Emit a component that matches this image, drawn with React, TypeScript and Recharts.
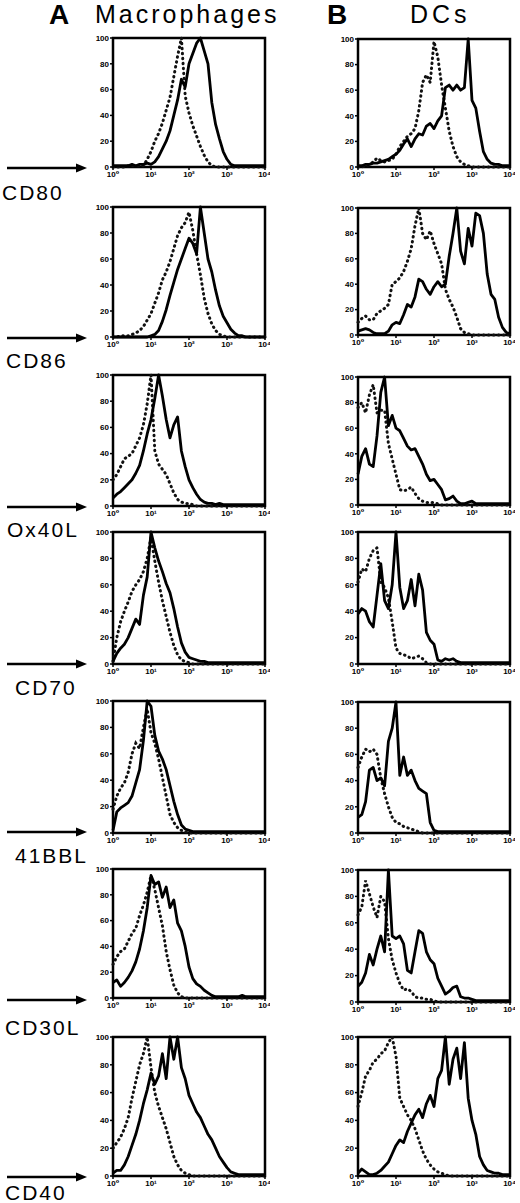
import { LineChart, Line, XAxis, YAxis, ReferenceArea } from "recharts";

// log10 fluorescence position, in decades (10^0 .. 10^4)
const decades = [
  0, 0.1, 0.2, 0.3, 0.4, 0.5, 0.6, 0.7, 0.8, 0.9,
  1, 1.1, 1.2, 1.3, 1.4, 1.5, 1.6, 1.7, 1.8, 1.9,
  2, 2.1, 2.2, 2.3, 2.4, 2.5, 2.6, 2.7, 2.8, 2.9,
  3, 3.1, 3.2, 3.3, 3.4, 3.5, 3.6, 3.7, 3.8, 3.9,
  4,
];
const xTicks = [0, 1, 2, 3, 4];
const xTickLabels = ["10⁰", "10¹", "10²", "10³", "10⁴"];
const yTicks = [0, 20, 40, 60, 80, 100];

const markers = ["CD80", "CD86", "Ox40L", "CD70", "41BBL", "CD30L", "CD40"];

// Macrophages (column A): solid = marker, dotted = isotype
const macCD80 = [1,1,1,1,1,2,1,2,2,3, 2,4,8,14,20,28,40,52,68,62, 80,88,96,100,90,80,50,33,22,12, 6,2,1,1,1,1,1,1,1,1, 1];
const macCD80Iso = [0,0,0,0,1,1,1,1,1,6, 12,20,26,34,44,54,70,86,100,55, 42,32,24,16,9,4,1,0,0,0, 0,0,0,0,0,0,0,0,0,0, 0];
const macCD86 = [0,0,0,0,0,0,0,0,0,0, 1,2,5,12,21,32,42,52,60,68, 76,72,64,100,80,60,50,36,24,16, 11,6,3,1,1,0,0,0,0,0, 0];
const macCD86Iso = [0,0,1,1,1,2,3,5,8,13, 18,26,34,44,50,58,68,78,84,88, 96,82,64,48,30,18,10,5,2,1, 0,0,0,0,0,0,0,0,0,0, 0];
const macOx40L = [6,9,11,14,17,20,25,31,42,55, 66,82,100,84,66,52,62,68,42,30, 20,14,9,5,3,2,2,1,2,1, 1,1,1,1,1,1,1,1,1,1, 1];
const macOx40LIso = [20,24,30,36,38,40,46,52,62,78, 100,42,32,28,24,17,10,5,3,2, 2,1,0,0,0,0,0,0,0,0, 0,0,0,0,0,0,0,0,0,0, 0];
const macCD70 = [2,8,12,15,20,27,34,30,52,66, 100,88,78,70,61,54,42,28,16,9, 5,4,3,2,2,1,1,1,1,1, 1,1,1,1,1,1,1,1,1,1, 1];
const macCD70Iso = [2,20,32,40,47,55,60,64,70,80, 96,78,62,48,36,24,14,7,3,2, 1,0,0,0,0,0,0,0,0,0, 0,0,0,0,0,0,0,0,0,0, 0];
const mac41BBL = [2,16,19,21,23,28,38,48,70,100, 96,74,62,56,48,36,24,14,6,3, 2,1,1,1,1,1,1,1,1,1, 1,1,1,1,1,1,1,1,1,1, 1];
const mac41BBLIso = [18,28,34,38,46,60,68,64,80,94, 76,68,56,42,28,14,8,4,2,1, 0,0,0,0,0,0,0,0,0,0, 0,0,0,0,0,0,0,0,0,0, 0];
const macCD30L = [12,14,9,12,16,21,28,38,52,70, 95,88,90,78,86,70,76,58,52,40, 24,15,11,9,6,4,2,1,1,1, 1,1,1,1,2,1,1,1,1,1, 1];
const macCD30LIso = [26,32,36,38,44,50,54,64,72,82, 95,84,70,56,36,22,10,4,1,0, 0,0,0,0,0,0,0,0,0,0, 0,0,0,0,0,0,0,0,0,0, 0];
const macCD40 = [2,4,4,8,14,22,30,40,52,62, 74,66,72,88,70,100,84,100,78,70, 58,52,46,42,36,30,26,20,14,10, 6,3,2,1,1,1,1,1,1,1, 1];
const macCD40Iso = [20,24,28,34,42,56,68,80,88,100, 78,60,50,42,34,24,14,8,4,2, 1,0,0,0,0,0,0,0,0,0, 0,0,0,0,0,0,0,0,0,0, 0];

// DCs (column B)
const dcCD80 = [1,1,2,2,3,3,4,5,6,8, 10,13,18,22,16,22,26,25,32,34, 30,36,40,62,64,60,64,60,62,100, 52,46,28,12,6,3,2,2,1,1, 1];
const dcCD80Iso = [0,0,1,2,4,7,5,4,5,6, 10,16,20,24,26,30,44,66,72,66, 98,86,64,46,28,16,8,4,2,1, 0,0,0,0,0,0,0,0,0,0, 0];
const dcCD86 = [3,4,5,4,2,1,1,1,3,8, 10,9,16,24,22,30,44,42,36,32, 38,42,38,40,62,80,100,66,56,84, 70,96,94,80,48,32,28,14,6,2, 1];
const dcCD86Iso = [10,13,15,12,12,17,19,21,24,40, 42,45,50,58,68,86,100,80,75,82, 72,64,56,36,28,22,14,5,2,1, 0,0,0,0,0,0,0,0,0,0, 0];
const dcOx40L = [24,38,44,32,30,54,88,100,62,70, 60,58,52,46,43,44,38,32,24,19, 20,16,12,4,5,7,3,1,1,2, 3,1,1,1,1,1,1,1,1,1, 1];
const dcOx40LIso = [76,80,72,86,94,72,74,74,48,36, 24,12,11,12,14,9,5,3,2,2, 2,1,0,0,0,0,0,0,0,0, 0,0,0,0,0,0,0,0,0,0, 0];
const dcCD70 = [38,42,40,32,28,52,76,48,42,60, 100,58,42,48,64,44,68,56,24,18, 15,3,2,4,3,4,2,1,1,1, 1,1,1,1,1,1,1,1,1,1, 1];
const dcCD70Iso = [62,72,70,80,86,88,62,58,50,32, 12,8,7,6,4,5,6,4,1,0, 0,0,0,0,0,0,0,0,0,0, 0,0,0,0,0,0,0,0,0,0, 0];
const dc41BBL = [12,14,24,48,50,40,42,36,70,80, 100,44,58,44,48,40,34,32,30,8, 2,1,1,1,1,1,1,1,1,1, 1,1,1,1,1,1,1,1,1,1, 1];
const dc41BBLIso = [50,58,64,62,64,60,42,30,20,12, 8,7,5,4,3,2,1,0,0,0, 0,0,0,0,0,0,0,0,0,0, 0,0,0,0,0,0,0,0,0,0, 0];
const dcCD30L = [12,15,22,36,28,40,50,38,100,50, 48,50,44,24,22,38,54,52,38,32, 29,18,12,6,8,11,12,4,3,3, 2,1,1,1,1,1,1,1,1,1, 1];
const dcCD30LIso = [66,72,92,82,72,64,80,76,48,32, 22,14,9,10,8,4,3,3,2,2, 1,0,0,0,0,0,0,0,0,0, 0,0,0,0,0,0,0,0,0,0, 0];
const dcCD40 = [2,5,3,1,1,2,4,7,10,16, 22,26,24,32,38,44,48,42,52,58, 50,70,76,100,66,84,92,70,96,56, 40,30,14,8,4,3,2,2,1,1, 1];
const dcCD40Iso = [50,60,72,76,82,84,88,90,96,100, 86,56,50,44,40,34,26,18,12,8, 5,3,2,1,0,0,0,0,0,0, 0,0,0,0,0,0,0,0,0,0, 0];

const macSolid = [macCD80, macCD86, macOx40L, macCD70, mac41BBL, macCD30L, macCD40];
const macDotted = [macCD80Iso, macCD86Iso, macOx40LIso, macCD70Iso, mac41BBLIso, macCD30LIso, macCD40Iso];
const dcSolid = [dcCD80, dcCD86, dcOx40L, dcCD70, dc41BBL, dcCD30L, dcCD40];
const dcDotted = [dcCD80Iso, dcCD86Iso, dcOx40LIso, dcCD70Iso, dc41BBLIso, dcCD30LIso, dcCD40Iso];

// page layout (plot-area edges in px)
const COL_A = { left: 113, right: 265 };
const COL_B = { left: 358, right: 510 };
const rowsA = [[38, 167], [207, 337], [375, 506], [532, 664], [701, 833], [869, 998], [1037, 1176]];
const rowsB = [[39, 167], [208, 335], [377, 505], [532, 664], [702, 833], [870, 1002], [1037, 1176]];
const arrowYs = [168, 338, 507, 664, 832, 1000, 1177];
const labelTops = [182, 350, 519, 677, 845, 1017, 1182];
const labelLefts = [2, 6, 7, 15, 15, 5, 5];

const FONT = "'Liberation Sans', Arial, 'DejaVu Sans', sans-serif";
const Y_AXIS_W = 24;
const X_AXIS_H = 14;
const TOP_PAD = 4;
const RIGHT_PAD = 5;
const tickStyle = { fill: "#000", fontSize: 8, fontWeight: 700, fontFamily: FONT };

const Panel = ({ col, row, solid, dotted }: any) => {
  const data = decades.map((d, i) => ({ d, solid: solid[i], dotted: dotted[i] }));
  const w = col.right - col.left + Y_AXIS_W + RIGHT_PAD;
  const h = row[1] - row[0] + TOP_PAD + X_AXIS_H;
  return (
    <div style={{ position: "absolute", left: col.left - Y_AXIS_W, top: row[0] - TOP_PAD }}>
      <LineChart width={w} height={h} data={data} margin={{ top: TOP_PAD, right: RIGHT_PAD, left: 0, bottom: 0 }}>
        <XAxis
          dataKey="d"
          type="number"
          domain={[0, 4]}
          ticks={xTicks}
          tickFormatter={(v: number) => xTickLabels[v]}
          height={X_AXIS_H}
          tick={tickStyle}
          tickSize={3}
          tickMargin={1}
          axisLine={false}
          tickLine={{ stroke: "#000", strokeWidth: 1.5 }}
        />
        <YAxis
          type="number"
          domain={[0, 100]}
          ticks={yTicks}
          width={Y_AXIS_W}
          tick={tickStyle}
          tickSize={3}
          tickMargin={1}
          axisLine={false}
          tickLine={{ stroke: "#000", strokeWidth: 1.5 }}
        />
        <ReferenceArea x1={0} x2={4} y1={0} y2={100} fill="none" stroke="#000" strokeWidth={2.5} />
        <Line
          type="linear"
          dataKey="dotted"
          stroke="#111"
          strokeWidth={3}
          strokeDasharray="0.5 4.5"
          strokeLinecap="round"
          dot={false}
          activeDot={false}
          isAnimationActive={false}
        />
        <Line
          type="linear"
          dataKey="solid"
          stroke="#000"
          strokeWidth={2.8}
          strokeLinejoin="round"
          dot={false}
          activeDot={false}
          isAnimationActive={false}
        />
      </LineChart>
    </div>
  );
};

export default function App() {
  return (
    <div style={{ position: "absolute", left: 0, top: 0, width: 520, height: 1203, background: "#fff", fontFamily: FONT, color: "#000" }}>
      <div style={{ position: "absolute", left: 49, top: 1, fontSize: 28, fontWeight: 700, lineHeight: 1 }}>A</div>
      <div style={{ position: "absolute", left: 95, top: 2, fontSize: 25, lineHeight: 1, letterSpacing: 3 }}>Macrophages</div>
      <div style={{ position: "absolute", left: 327, top: 1, fontSize: 28, fontWeight: 700, lineHeight: 1 }}>B</div>
      <div style={{ position: "absolute", left: 410, top: 2, fontSize: 25, lineHeight: 1, letterSpacing: 4 }}>DCs</div>

      <svg width={520} height={1203} style={{ position: "absolute", left: 0, top: 0 }}>
        {arrowYs.map((y) => (
          <g key={y}>
            <line x1={7} y1={y} x2={77} y2={y} stroke="#000" strokeWidth={2.5} />
            <polygon points={`${76},${y - 4.5} ${87},${y} ${76},${y + 4.5}`} fill="#000" />
          </g>
        ))}
      </svg>

      {markers.map((m, i) => (
        <div
          key={m}
          style={{ position: "absolute", left: labelLefts[i], top: labelTops[i], fontSize: 21, lineHeight: 1, letterSpacing: 2 }}
        >
          {m}
        </div>
      ))}

      {markers.map((m, i) => (
        <Panel key={"a" + m} col={COL_A} row={rowsA[i]} solid={macSolid[i]} dotted={macDotted[i]} />
      ))}
      {markers.map((m, i) => (
        <Panel key={"b" + m} col={COL_B} row={rowsB[i]} solid={dcSolid[i]} dotted={dcDotted[i]} />
      ))}
    </div>
  );
}
